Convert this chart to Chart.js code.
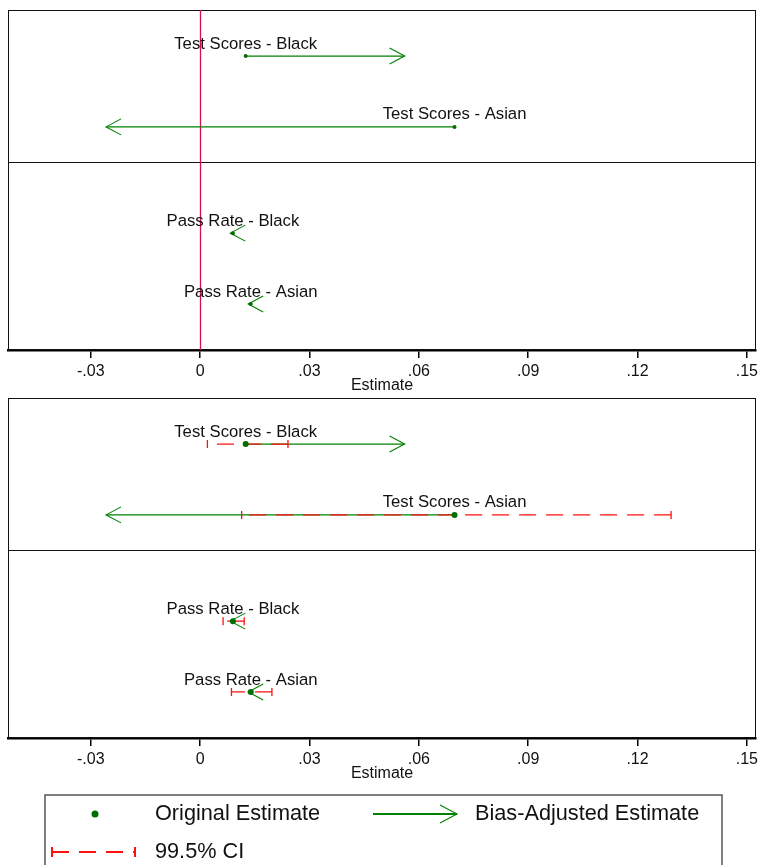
<!DOCTYPE html>
<html>
<head>
<meta charset="utf-8">
<script src="https://cdn.jsdelivr.net/npm/chart.js@4.4.1/dist/chart.umd.min.js"></script>
<style>
  body { margin: 0; background: #fff; }
  canvas { position: absolute; left: 0; }
  #top { top: 0; }
  #bottom { top: 388px; }
</style>
</head>
<body>
<canvas id="top" width="760" height="395"></canvas>
<canvas id="bottom" width="760" height="477"></canvas>
<script>
// values
const categories = ["Test Scores - Black", "Test Scores - Asian", "Pass Rate - Black", "Pass Rate - Asian"];
const rowPositions = [1, 2, 3.5, 4.5];
const originalEstimate = [0.0125, 0.0698, 0.0090, 0.0139];
const biasAdjusted = [0.0561, -0.0258, 0.0083, 0.0132];
const ciLower = [0.0020, 0.0114, 0.0063, 0.0086];
const ciUpper = [0.0241, 0.1292, 0.0121, 0.0197];
const tickValues = [-0.03, 0, 0.03, 0.06, 0.09, 0.12, 0.15];
const tickLabels = ["-.03", "0", ".03", ".06", ".09", ".12", ".15"];

const GREEN = "#008000";
const DOT = "#006e00";
const RED = "#ff1010";
const FONT = "'Liberation Sans', Arial, sans-serif";

function arrow(ctx, x0, x1, y, head, headH, width) {
    ctx.strokeStyle = GREEN;
    ctx.lineWidth = width;
    ctx.beginPath();
    ctx.moveTo(x0, y);
    ctx.lineTo(x1, y);
    ctx.stroke();
    const dir = x1 >= x0 ? -1 : 1;
    ctx.lineWidth = 1.1;
    ctx.beginPath();
    ctx.moveTo(x1 + dir * head, y - headH);
    ctx.lineTo(x1, y);
    ctx.lineTo(x1 + dir * head, y + headH);
    ctx.stroke();
}

function ciBar(ctx, x0, x1, y, cap) {
    ctx.strokeStyle = RED;
    ctx.lineWidth = 1.3;
    ctx.setLineDash([17, 10]);
    ctx.beginPath();
    ctx.moveTo(x1, y);
    ctx.lineTo(x0, y);
    ctx.stroke();
    ctx.setLineDash([]);
    ctx.beginPath();
    ctx.moveTo(x0, y - cap);
    ctx.lineTo(x0, y + cap);
    ctx.moveTo(x1, y - cap);
    ctx.lineTo(x1, y + cap);
    ctx.stroke();
}

const panelPlugin = {
    id: "panel",
    beforeDatasetsDraw(chart, args, opts) {
        const { ctx, chartArea: a, scales: { x, y } } = chart;
        ctx.save();
        ctx.strokeStyle = "#111";
        ctx.lineWidth = 1;
        ctx.strokeRect(a.left + 0.5, a.top + 0.5, a.width - 1, a.height - 1);
        const dy = Math.round(y.getPixelForValue(2.5)) + 0.5;
        ctx.beginPath();
        ctx.moveTo(a.left, dy);
        ctx.lineTo(a.right, dy);
        ctx.stroke();

        if (opts.zero) {
            const zx = Math.round(x.getPixelForValue(0)) + 0.5;
            ctx.strokeStyle = "#d3124f";
            ctx.lineWidth = 1.3;
            ctx.beginPath();
            ctx.moveTo(zx, a.top);
            ctx.lineTo(zx, a.bottom);
            ctx.stroke();
        }

        categories.forEach((c, i) => {
            const yy = y.getPixelForValue(rowPositions[i]);
            arrow(ctx, x.getPixelForValue(originalEstimate[i]), x.getPixelForValue(biasAdjusted[i]), yy, 15, 8, 1.3);
        });
        if (opts.ci) {
            categories.forEach((c, i) => {
                const yy = y.getPixelForValue(rowPositions[i]);
                ciBar(ctx, x.getPixelForValue(ciLower[i]), x.getPixelForValue(ciUpper[i]), yy, 4);
            });
        }
        ctx.restore();
    },
    afterDatasetsDraw(chart) {
        const { ctx, scales: { x, y } } = chart;
        ctx.save();
        ctx.fillStyle = "#111";
        ctx.font = "16.7px " + FONT;
        ctx.textAlign = "center";
        ctx.textBaseline = "middle";
        categories.forEach((c, i) => {
            ctx.fillText(c, x.getPixelForValue(originalEstimate[i]), y.getPixelForValue(rowPositions[i]) - 12);
        });
        ctx.restore();
    },
    afterDraw(chart, args, opts) {
        if (!opts.legend) return;
        const ctx = chart.ctx;
        ctx.save();
        // legend box
        ctx.strokeStyle = "#555";
        ctx.lineWidth = 1.5;
        ctx.beginPath();
        ctx.moveTo(45, 490);
        ctx.lineTo(45, 407);
        ctx.lineTo(722, 407);
        ctx.lineTo(722, 490);
        ctx.stroke();

        const r1 = 426, r2 = 464;
        ctx.fillStyle = DOT;
        ctx.beginPath();
        ctx.arc(95, r1, 3.5, 0, Math.PI * 2);
        ctx.fill();
        arrow(ctx, 373, 457, r1, 17, 9, 2);
        ctx.strokeStyle = RED;
        ctx.lineWidth = 2;
        ctx.setLineDash([17, 10]);
        ctx.beginPath();
        ctx.moveTo(52, r2);
        ctx.lineTo(134, r2);
        ctx.stroke();
        ctx.setLineDash([]);
        ctx.beginPath();
        ctx.moveTo(52, r2 - 5);
        ctx.lineTo(52, r2 + 5);
        ctx.moveTo(135, r2 - 5);
        ctx.lineTo(135, r2 + 5);
        ctx.stroke();

        ctx.fillStyle = "#111";
        ctx.font = "21.7px " + FONT;
        ctx.textAlign = "left";
        ctx.textBaseline = "middle";
        ctx.fillText("Original Estimate", 155, r1);
        ctx.fillText("Bias-Adjusted Estimate", 475, r1);
        ctx.fillText("99.5% CI", 155, r2);
        ctx.restore();
    }
};

function makePanel(id, opts, dotRadius, padBottom) {
    return new Chart(document.getElementById(id), {
        type: "scatter",
        data: {
            datasets: [{
                label: "Original Estimate",
                data: originalEstimate.map((v, i) => ({ x: v, y: rowPositions[i] })),
                pointRadius: dotRadius,
                pointBackgroundColor: DOT,
                pointBorderWidth: 0,
                showLine: false
            }]
        },
        options: {
            responsive: false,
            animation: false,
            layout: { padding: { left: 8, right: 1, top: 10, bottom: padBottom } },
            plugins: {
                legend: { display: false },
                tooltip: { enabled: false },
                panel: opts
            },
            scales: {
                x: {
                    type: "linear",
                    min: -0.0527,
                    max: 0.1525,
                    afterBuildTicks: (scale) => { scale.ticks = tickValues.map(v => ({ value: v })); },
                    afterFit: (scale) => {
                        scale.height = 45;
                        scale.paddingLeft = 0;
                        scale.paddingRight = 0;
                    },
                    ticks: {
                        autoSkip: false,
                        maxRotation: 0,
                        padding: 4,
                        color: "#111",
                        font: { family: FONT, size: 16 },
                        callback: (v) => tickLabels[tickValues.findIndex(t => Math.abs(t - v) < 1e-9)]
                    },
                    grid: { drawOnChartArea: false, drawTicks: true, tickLength: 8, color: "#000", lineWidth: 1.5 },
                    border: { display: true, color: "#000", width: 2.5 },
                    title: {
                        display: true,
                        text: "Estimate",
                        color: "#111",
                        font: { family: FONT, size: 16 },
                        padding: { top: 0, bottom: 0 }
                    }
                },
                y: {
                    type: "linear",
                    display: false,
                    min: 0.35,
                    max: 5.15,
                    reverse: true
                }
            }
        },
        plugins: [panelPlugin]
    });
}

makePanel("top", { zero: true, ci: false, legend: false }, 2, 0);
makePanel("bottom", { zero: false, ci: true, legend: true }, 3, 82);
</script>
</body>
</html>
